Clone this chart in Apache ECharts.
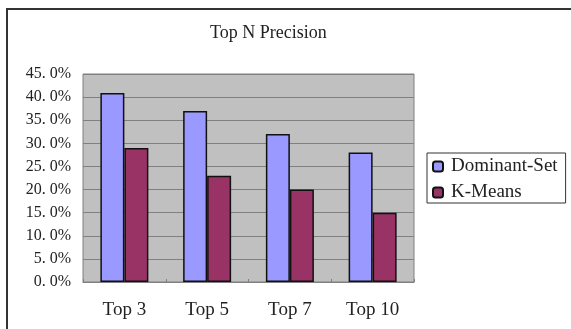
<!DOCTYPE html>
<html>
<head>
<meta charset="utf-8">
<script src="https://cdn.jsdelivr.net/npm/echarts@6/dist/echarts.min.js"></script>
<style>
  html, body { margin: 0; padding: 0; background: #ffffff; }
  #chart { width: 571px; height: 329px; }
</style>
</head>
<body>
<div id="chart"></div>
<script>
// Precision of the top-N results for two clustering methods
const categories = ['Top 3', 'Top 5', 'Top 7', 'Top 10'];
const dominantSet = [40.9, 37.0, 32.0, 28.0];
const kMeans = [29.0, 23.0, 20.0, 15.0];
const seriesNames = ['Dominant-Set', 'K-Means'];

const FONT = '"Liberation Serif", "DejaVu Serif", serif';

// "45. 0%" style percentage labels
function pctLabel(v) {
  const s = v.toFixed(1).split('.');
  return s[0] + '. ' + s[1] + '%';
}

const chart = echarts.init(document.getElementById('chart'), null, { renderer: 'canvas' });

chart.setOption({
  backgroundColor: '#ffffff',
  animation: false,
  graphic: [{
    type: 'rect',
    shape: { x: 7, y: 9, width: 600, height: 400 },
    style: { fill: 'none', stroke: '#333333', lineWidth: 2 },
    silent: true,
    z: -1
  }],
  title: {
    text: 'Top N Precision',
    top: 19,
    left: 205,
    textStyle: { fontFamily: FONT, fontSize: 18, fontWeight: 'normal', color: '#222222' }
  },
  legend: {
    orient: 'vertical',
    left: 427,
    top: 153,
    padding: [4, 8, 1, 5],
    itemGap: 7,
    itemWidth: 10,
    itemHeight: 10,
    borderColor: '#333333',
    borderWidth: 1,
    textStyle: { fontFamily: FONT, fontSize: 19, color: '#222222', padding: [0, 0, 0, 3] },
    data: seriesNames
  },
  grid: {
    left: 83,
    top: 74,
    width: 331,
    height: 208,
    show: true,
    backgroundColor: '#c0c0c0',
    borderColor: '#808080',
    borderWidth: 1
  },
  xAxis: {
    type: 'category',
    data: categories,
    axisLine: { show: true, lineStyle: { color: '#808080' } },
    axisTick: { show: true, length: 3, inside: true, lineStyle: { color: '#808080' } },
    axisLabel: { fontFamily: FONT, fontSize: 19, color: '#222222', margin: 19 }
  },
  yAxis: {
    type: 'value',
    min: 0,
    max: 45,
    interval: 5,
    axisLine: { show: false },
    axisTick: { show: false },
    splitLine: { show: true, lineStyle: { color: '#808080', width: 1 } },
    axisLabel: {
      fontFamily: FONT, fontSize: 16, color: '#222222', margin: 12,
      formatter: pctLabel
    }
  },
  series: [
    {
      name: seriesNames[0],
      type: 'bar',
      data: dominantSet,
      barWidth: 24,
      barGap: '0%',
      itemStyle: { color: '#9999ff', borderColor: '#111111', borderWidth: 1.5 }
    },
    {
      name: seriesNames[1],
      type: 'bar',
      data: kMeans,
      barWidth: 24,
      barGap: '0%',
      itemStyle: { color: '#993366', borderColor: '#111111', borderWidth: 1.5 }
    }
  ]
});
</script>
</body>
</html>
